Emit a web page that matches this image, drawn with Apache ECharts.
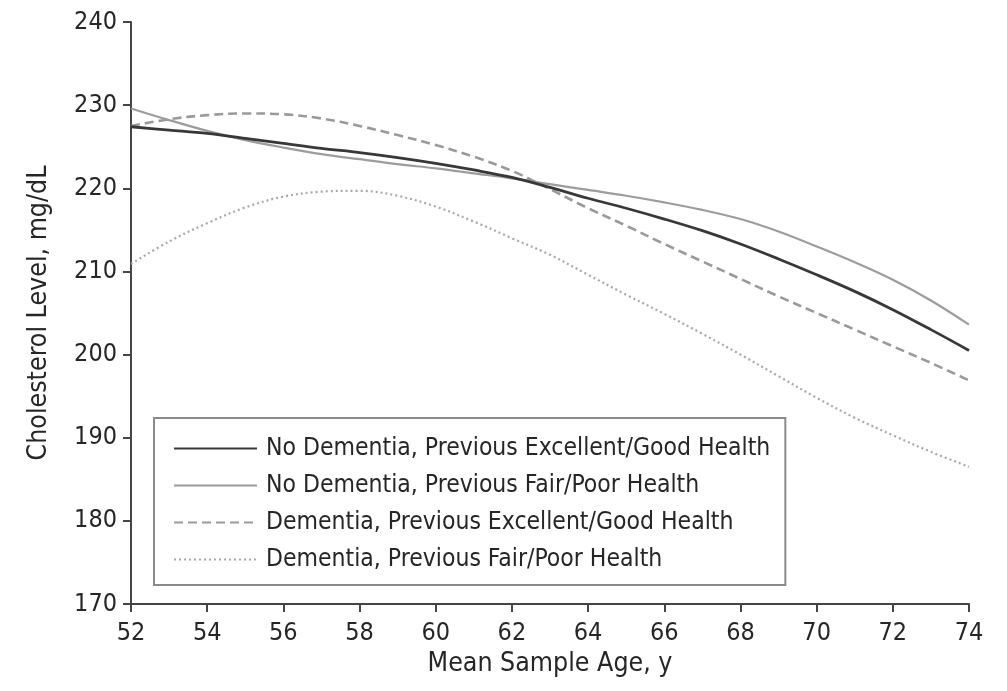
<!DOCTYPE html>
<html>
<head>
<meta charset="utf-8">
<script src="https://cdn.jsdelivr.net/npm/echarts@6/dist/echarts.min.js"></script>
<style>
  html, body { margin: 0; padding: 0; background: #fff; }
  #chart { width: 1007px; height: 691px; }
</style>
</head>
<body>
<div id="chart"></div>
<script>
// Mean sample age (years)
const ages = [52, 53, 54, 55, 56, 57, 58, 59, 60, 61, 62, 63, 64, 65, 66, 67, 68, 69, 70, 71, 72, 73, 74];

// Cholesterol level, mg/dL, by group
const noDementiaGood = [227.4, 227.0, 226.6, 226.0, 225.4, 224.8, 224.3, 223.7, 223.0, 222.2, 221.3, 220.1, 218.8,
                        217.6, 216.3, 214.9, 213.3, 211.5, 209.6, 207.6, 205.4, 203.0, 200.5];
const noDementiaFair = [229.6, 228.2, 226.9, 225.8, 224.9, 224.1, 223.5, 222.9, 222.4, 221.8, 221.2, 220.5, 219.8,
                        219.1, 218.3, 217.4, 216.3, 214.8, 213.0, 211.1, 209.0, 206.5, 203.6];
const dementiaGood   = [227.5, 228.3, 228.8, 229.0, 228.9, 228.4, 227.5, 226.4, 225.2, 223.8, 222.1, 219.9, 217.6,
                        215.5, 213.3, 211.2, 209.1, 207.0, 205.0, 203.0, 201.0, 199.0, 196.9];
const dementiaFair   = [210.9, 213.6, 215.8, 217.7, 219.0, 219.6, 219.7, 219.1, 217.8, 216.0, 214.0, 212.0, 209.6,
                        207.2, 204.9, 202.5, 200.0, 197.4, 194.8, 192.4, 190.3, 188.3, 186.5];

const seriesNames = [
  'No Dementia, Previous Excellent/Good Health',
  'No Dementia, Previous Fair/Poor Health',
  'Dementia, Previous Excellent/Good Health',
  'Dementia, Previous Fair/Poor Health'
];

const yTicks = [170, 180, 190, 200, 210, 220, 230, 240];

const FONT = '"DejaVu Sans Condensed", "Liberation Sans Narrow", sans-serif';
const TEXT = '#262626';

const pairs = vals => ages.map((a, i) => [a, vals[i]]);

const styles = [
  { color: '#383838', width: 2.8, type: 'solid' },
  { color: '#9c9c9c', width: 2.2, type: 'solid' },
  { color: '#9a9a9a', width: 2.6, type: [9, 5] },
  { color: '#a8a8a8', width: 2.2, type: [2, 3] }
];
const values = [noDementiaGood, noDementiaFair, dementiaGood, dementiaFair];

const chart = echarts.init(document.getElementById('chart'), null, { renderer: 'canvas' });

chart.setOption({
  backgroundColor: '#fff',
  animation: false,
  grid: { left: 131, right: 38, top: 22, bottom: 87, containLabel: false },
  legend: {
    orient: 'vertical',
    left: 154,
    top: 418,
    padding: [18, 15, 13, 19],
    itemWidth: 83,
    itemHeight: 14,
    itemGap: 12,
    borderColor: '#8a8a8a',
    borderWidth: 2,
    backgroundColor: '#fff',
    itemStyle: { color: 'transparent', borderColor: 'transparent', borderWidth: 0 },
    textStyle: { fontFamily: FONT, fontSize: 24.5, lineHeight: 24, color: TEXT, padding: [0, 0, 0, 4] },
    data: seriesNames
  },
  xAxis: {
    type: 'value',
    min: 52,
    max: 74,
    interval: 2,
    name: 'Mean Sample Age, y',
    nameLocation: 'middle',
    nameGap: 46,
    nameTextStyle: { fontFamily: FONT, fontSize: 26.5, color: TEXT },
    axisLine: { lineStyle: { color: '#454545', width: 2 } },
    axisTick: { show: true, length: 8, inside: false, lineStyle: { color: '#454545', width: 2 } },
    axisLabel: { fontFamily: FONT, fontSize: 25, color: TEXT, margin: 17 },
    splitLine: { show: false }
  },
  yAxis: {
    type: 'value',
    min: yTicks[0],
    max: yTicks[yTicks.length - 1],
    interval: 10,
    name: 'Cholesterol Level, mg/dL',
    nameLocation: 'middle',
    nameGap: 78,
    nameRotate: 90,
    nameTextStyle: { fontFamily: FONT, fontSize: 26.5, color: TEXT },
    axisLine: { show: true, lineStyle: { color: '#454545', width: 2 } },
    axisTick: { show: true, length: 8, inside: false, lineStyle: { color: '#454545', width: 2 } },
    axisLabel: { fontFamily: FONT, fontSize: 25, color: TEXT, margin: 14 },
    splitLine: { show: false }
  },
  series: seriesNames.map((name, i) => ({
    name: name,
    type: 'line',
    data: pairs(values[i]),
    smooth: 0.35,
    symbol: 'none',
    color: styles[i].color,
    lineStyle: { color: styles[i].color, width: styles[i].width, type: styles[i].type },
    z: 10 - i
  }))
});
</script>
</body>
</html>
